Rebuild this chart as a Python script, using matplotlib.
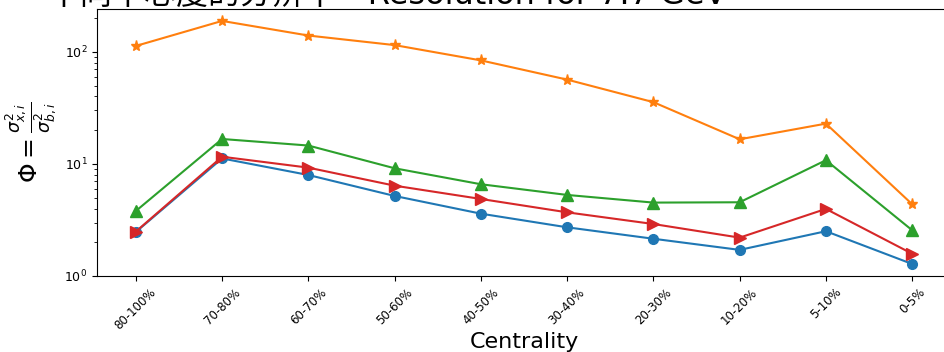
import matplotlib.pyplot as plt
import numpy as np

centrality = ["80-100%", "70-80%", "60-70%", "50-60%", "40-50%",
              "30-40%", "20-30%", "10-20%", "5-10%", "0-5%"]

# resolution ratio per centrality bin, one array per series
phi_c0 = [2.47, 11.2, 7.97, 5.18, 3.60, 2.72, 2.15, 1.71, 2.51, 1.28]
phi_c1 = [113, 189, 140, 115, 84, 56.6, 35.6, 16.6, 22.9, 4.37]
phi_c2 = [3.80, 16.7, 14.6, 9.15, 6.59, 5.29, 4.52, 4.55, 10.8, 2.56]
phi_c3 = [2.49, 11.6, 9.27, 6.40, 4.87, 3.70, 2.91, 2.20, 3.97, 1.58]

title_cn = "不同中心度的分辨率"
title_en = " - Resolution for 7.7 GeV"


def main():
    fig = plt.figure(figsize=(9.45, 3.52), dpi=100)
    ax = fig.add_axes([97 / 945, 1 - 276 / 352, 854 / 945, 266.7 / 352])

    x = np.arange(len(centrality))
    ax.plot(x, phi_c0, marker="o", color="C0", markersize=7, linewidth=1.5)
    ax.plot(x, phi_c1, marker="*", color="C1", markersize=8, linewidth=1.5)
    ax.plot(x, phi_c2, marker="^", color="C2", markersize=8, linewidth=1.5)
    ax.plot(x, phi_c3, marker=">", color="C3", markersize=8, linewidth=1.5)

    ax.set_yscale("log")
    ax.set_ylim(1, 240)
    ax.set_xticks(x)
    ax.set_xticklabels(centrality, rotation=45, fontsize=8.5)
    ax.tick_params(axis="y", labelsize=9)

    ax.set_xlabel("Centrality", fontsize=16, labelpad=0)
    ax.set_ylabel(r"$\Phi = \frac{\sigma^2_{x,i}}{\sigma^2_{b,i}}$", fontsize=18)

    fig.text(48 / 945, 1 - 4 / 352, title_cn + title_en, fontsize=23,
             ha="left", va="baseline",
             family=["DejaVu Sans", "Noto Sans CJK SC"])

    fig.savefig("out.png", dpi=100)


if "__main__" == __name__:
    main()
